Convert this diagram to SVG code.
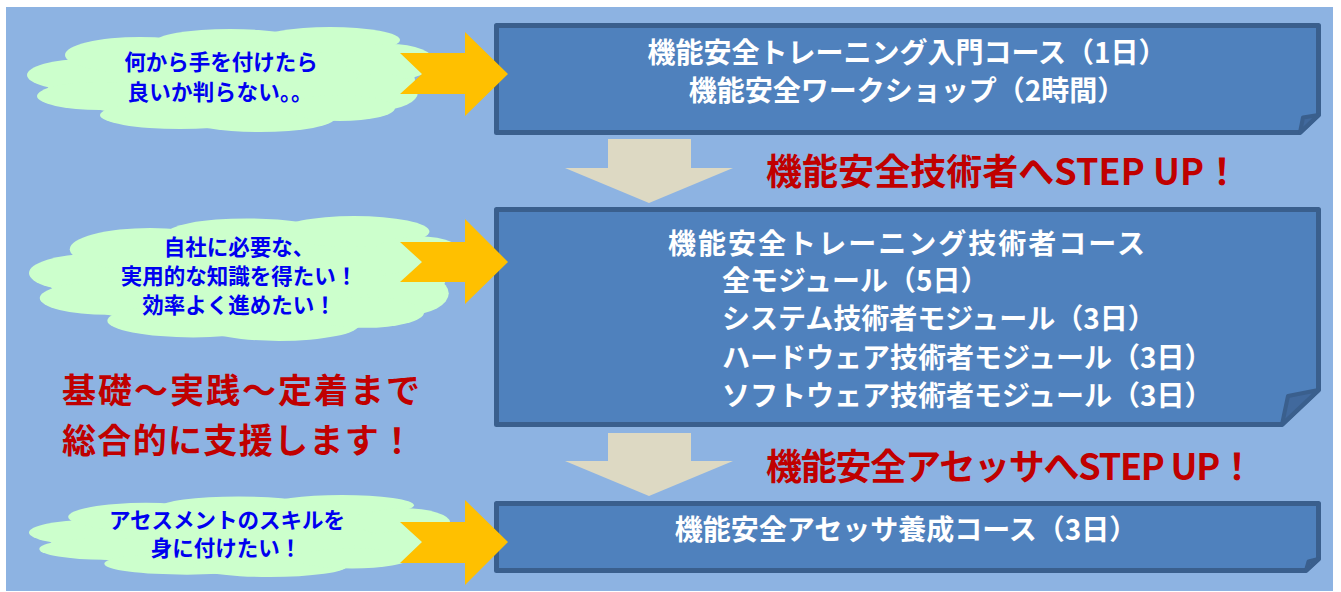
<svg xmlns="http://www.w3.org/2000/svg" xmlns:xlink="http://www.w3.org/1999/xlink" width="1341" height="592" viewBox="0 0 1341 592">
<style>
.bg{fill:#8DB3E2}
.box{fill:#4F81BD;stroke:#3A5F8D;stroke-width:5;stroke-linejoin:round}
.fold{fill:#41699D;stroke:#3A5F8D;stroke-width:4;stroke-linejoin:round}
.cloud{fill:#CCFFCC}
.yarrow{fill:#FFC000}
.garrow{fill:#DDD9C3}
text{font-family:"Noto Sans CJK JP","Noto Sans",sans-serif;font-weight:bold}
.ct{fill:#0000F0;font-size:21.5px;text-anchor:middle}
.bt{fill:#FFFFFF;font-size:28px}
.rt{fill:#C00000;font-size:36px}
.lt{fill:#C00000;font-size:34px}
</style>
<defs>
<g id="cloudshape">
<ellipse cx="203" cy="53" rx="185" ry="42"/>
<ellipse cx="58" cy="48" rx="58" ry="16"/>
<ellipse cx="73" cy="69" rx="63" ry="14"/>
<ellipse cx="113" cy="28" rx="75" ry="18"/>
<ellipse cx="203" cy="15" rx="75" ry="13"/>
<ellipse cx="303" cy="13" rx="70" ry="13"/>
<ellipse cx="363" cy="35" rx="45" ry="18"/>
<ellipse cx="353" cy="65" rx="38" ry="18"/>
<ellipse cx="153" cy="88" rx="80" ry="14"/>
<ellipse cx="233" cy="91" rx="75" ry="14"/>
<ellipse cx="313" cy="81" rx="55" ry="13"/>
</g>
</defs>
<rect class="bg" x="6" y="7" width="1327" height="584"/>
<g id="cloud1">
<use xlink:href="#cloudshape" class="cloud" transform="translate(27,27)"/>
<text class="ct" x="221" y="69.5">何から手を付けたら</text>
<text class="ct" x="220" y="99.5" textLength="185">良いか判らない。。</text>
</g>
<g id="cloud2">
<use xlink:href="#cloudshape" class="cloud" transform="translate(29,216) scale(1.0735,1.19)"/>
<text class="ct" x="239" y="254.5">自社に必要な、</text>
<text class="ct" x="239" y="283.5">実用的な知識を得たい！</text>
<text class="ct" x="239" y="312.5">効率よく進めたい！</text>
</g>
<g id="cloud3">
<use xlink:href="#cloudshape" class="cloud" transform="translate(29,495) scale(1.032,0.781)"/>
<text class="ct" x="227" y="528">アセスメントのスキルを</text>
<text class="ct" x="226" y="556">身に付けたい！</text>
</g>
<g id="box1">
<path class="box" d="M496.5,25.5 H1318.5 V115 L1300,132.5 H496.5 Z"/>
<path class="fold" d="M1300,132.5 L1303,117.5 L1318.5,115 Z"/>
<text class="bt" x="907" y="63" text-anchor="middle">機能安全トレーニング入門コース（1日）</text>
<text class="bt" x="907" y="101" text-anchor="middle">機能安全ワークショップ（2時間）</text>
</g>
<g id="box2">
<path class="box" d="M496.5,209.5 H1318.5 V390 L1282,424.5 H496.5 Z"/>
<path class="fold" d="M1282,424.5 L1288,396 L1318.5,390 Z"/>
<text class="bt" x="668" y="254" textLength="477">機能安全トレーニング技術者コース</text>
<text class="bt" x="722" y="291">全モジュール（5日）</text>
<text class="bt" x="722" y="329">システム技術者モジュール（3日）</text>
<text class="bt" x="722" y="368">ハードウェア技術者モジュール（3日）</text>
<text class="bt" x="722" y="406">ソフトウェア技術者モジュール（3日）</text>
</g>
<g id="box3">
<path class="box" d="M496.5,503.5 H1318.5 V559 L1306,570.5 H496.5 Z"/>
<path class="fold" d="M1306,570.5 L1308.5,561.5 L1318.5,559 Z"/>
<text class="bt" x="906" y="540" text-anchor="middle">機能安全アセッサ養成コース（3日）</text>
</g>
<g id="connectors">
<polygon class="yarrow" points="400,53 465,53 465,32 508,74 465,116 465,94 400,94 422,74"/>
<polygon class="yarrow" points="400,242 465,242 465,219 508,262 465,304 465,282 400,282 422,262"/>
<polygon class="yarrow" points="400,522 465,522 465,500 508,542 465,585 465,563 400,563 422,542"/>
<polygon class="garrow" points="608,139 691,139 691,168 733,168 649,203 565,168 608,168"/>
<polygon class="garrow" points="608,433 691,433 691,461 733,461 649,496 565,461 608,461"/>
</g>
<g id="labels">
<text class="rt" x="766" y="184.5" textLength="474">機能安全技術者へSTEP UP！</text>
<text class="rt" x="766" y="479.5" textLength="489">機能安全アセッサへSTEP UP！</text>
<text class="lt" x="62" y="403" textLength="358">基礎～実践～定着まで</text>
<text class="lt" x="62" y="452.5" textLength="352">総合的に支援します！</text>
</g>
</svg>
